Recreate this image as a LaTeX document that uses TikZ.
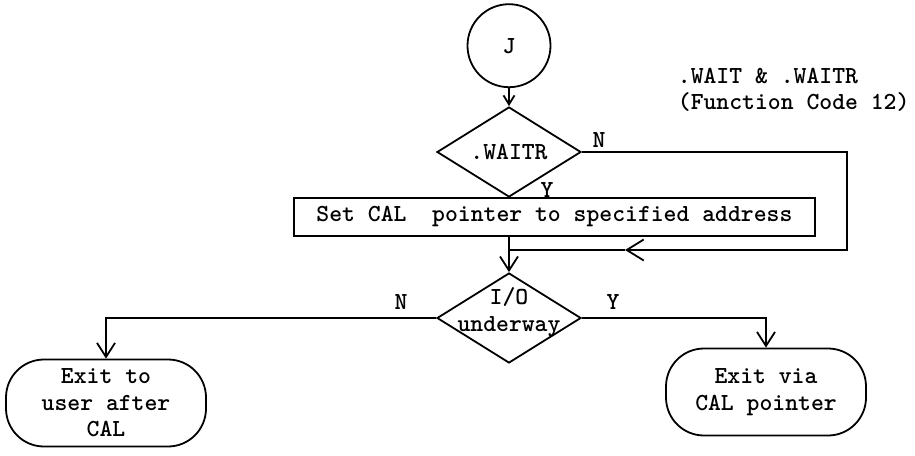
\documentclass[tikz,border=0pt]{standalone}
\usepackage{fontspec}
\usepackage{tikz}
\usetikzlibrary{arrows.meta,positioning,shapes.geometric}
\newcommand{\flowfont}{\fontsize{24.5}{26.5}\selectfont\ttfamily\bfseries}

\begin{document}
\begin{tikzpicture}[
  x=1pt, y=-1pt,
  decision/.style={draw, diamond, aspect=1.6, inner sep=0pt,
    minimum width=144pt, minimum height=90pt},
  procbox/.style={draw, rectangle, inner sep=0pt,
    minimum width=521pt, minimum height=38pt},
  terminal/.style={draw, rectangle, rounded corners=38pt, align=center,
    inner sep=0pt, minimum width=200pt, minimum height=87pt},
  connector/.style={draw, circle, inner sep=0pt, minimum size=83pt},
  >={Straight Barb[length=14pt,width=18pt]}, line width=1.8pt,
  font=\flowfont
]
\useasboundingbox (0,0) rectangle (915,455);
\node[decision] (waitr) at (509,152) {.WAITR};
\node[connector, above=18pt of waitr] (j) {J};
\node[procbox, anchor=north west] (setcal) at (293,197) {Set CAL\ \ pointer to specified address};
\node[decision, label={[align=center, yshift=6pt]center:I/O\\underway}] (io) at (509,318) {};
\node[terminal] (exituser) at (106,403) {Exit to\\user after\\CAL};
\node[terminal] (exitcal) at (766,392) {Exit via\\CAL pointer};
\node[align=left, anchor=west, inner sep=0pt] (title) at (677,90) {.WAIT \& .WAITR\\(Function Code 12)};

\node (waitrno) at (599,140) {N};
\node (waitryes) at (547,190) {Y};
\node (iono) at (401,302) {N};
\node (ioyes) at (613,302) {Y};

\coordinate (midtip) at (625,250);
\coordinate (merge) at (509,250);

\draw[->, >={Straight Barb[length=9pt,width=11pt]}] (j) -- (waitr);
\draw[->, >={Straight Barb[length=17pt,width=21pt]}] (waitr.east) -- ++(265,0) |- (midtip);
\draw (midtip) -- (merge);
\draw[->] (setcal.south -| io.north) -- (io.north);
\draw[->] (io.west) -| (exituser.north);
\draw[->] (io.east) -| (exitcal.north);
\end{tikzpicture}
\end{document}
